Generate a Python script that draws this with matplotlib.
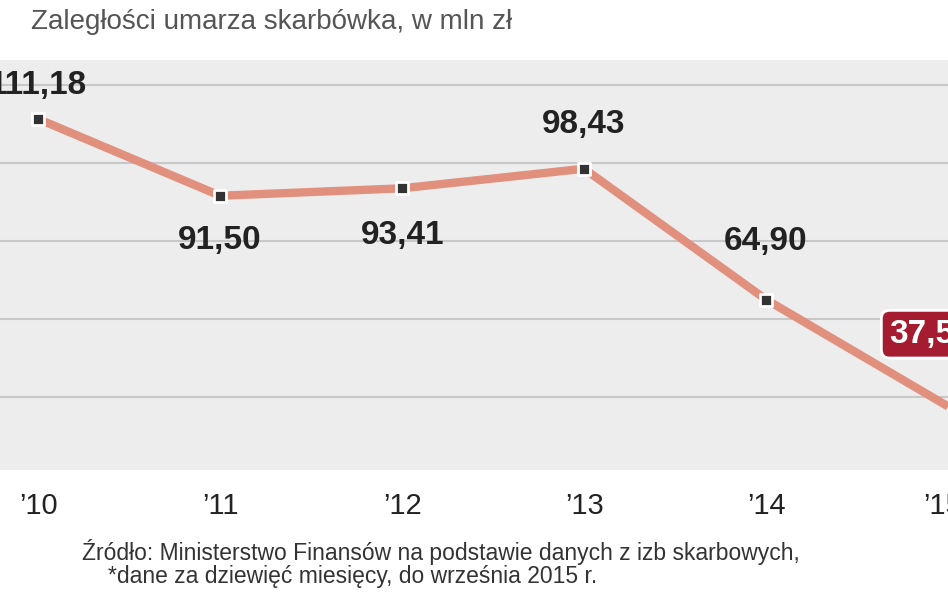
import matplotlib
matplotlib.use("Agg")
import matplotlib.pyplot as plt

years = ["’10", "’11", "’12", "’13", "’14", "’15*"]
values = [111.18, 91.50, 93.41, 98.43, 64.90, 37.50]
labels = ["111,18", "91,50", "93,41", "98,43", "64,90", "37,50"]

plt.rcParams['font.family'] = ['Liberation Sans', 'DejaVu Sans']
fig = plt.figure(figsize=(9.48, 5.93), dpi=100)
ax = fig.add_axes([0, 1 - 470/593, 1, (470 - 60)/593])
ax.set_facecolor('#ededed')
x = list(range(len(values)))
ax.set_xlim(-0.21, -0.21 + 4.862)
ax.set_ylim(21.2, 126.3)
for g in [40, 60, 80, 100, 120]:
    ax.axhline(g, color='#c8c8c8', lw=1.5, zorder=1)
ax.plot(x, values, color='#e0907c', lw=6, zorder=2, solid_capstyle='butt')
ax.scatter(x[:-1], values[:-1], s=70, marker='s', facecolor='#333333', edgecolor='white', linewidth=2, zorder=3)
offs = [(0, 24), (0, -32), (0, -34), (0, 32), (0, 42)]
for i in range(5):
    ax.annotate(labels[i], (x[i], values[i]), xytext=offs[i], textcoords='offset points',
                ha='center', va='center', fontsize=24, fontweight='bold', color='#222222', zorder=4)
ax.annotate(labels[5], (x[5], values[5]), xytext=(-42, 52), textcoords='offset points',
            ha='left', va='center', fontsize=24, fontweight='bold', color='white', zorder=5,
            bbox=dict(boxstyle='round,pad=0.25', fc='#a51c30', ec='white', lw=2))
for s in ax.spines.values():
    s.set_visible(False)
ax.set_yticks([])
ax.set_xticks(x)
ax.set_xticklabels(years, fontsize=21, color='#222222')
ax.tick_params(axis='x', length=0, pad=16)
fig.text(512/948, 1 - 22/593, "Zaległości umarza skarbówka, w mln zł", ha='right', va='center',
         fontsize=20, color='#555555')
fig.text(800/948, 1 - 552/593, "Źródło: Ministerstwo Finansów na podstawie danych z izb skarbowych,",
         ha='right', va='center', fontsize=16.5, color='#333333')
fig.text(597/948, 1 - 577/593, "*dane za dziewięć miesięcy, do września 2015 r.",
         ha='right', va='center', fontsize=16.5, color='#333333')
fig.savefig("out.png", dpi=100)
